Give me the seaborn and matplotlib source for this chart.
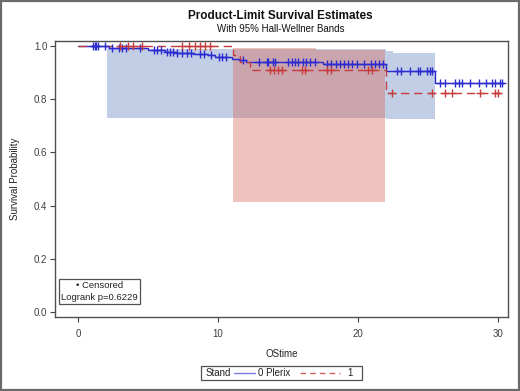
import numpy as np
import pandas as pd
import matplotlib
matplotlib.use("Agg")
import matplotlib.pyplot as plt
from matplotlib.patches import Rectangle
from matplotlib.lines import Line2D
import seaborn as sns

# ---------------- data ----------------
# Stand = 0 (Plerix) Kaplan-Meier step curve
blue_times = [0, 2.2, 5.0, 6.2, 7.0, 8.2, 9.3, 9.8, 11.0, 11.5, 12.0, 17.5, 22.0, 25.5, 30.35]
blue_surv = [1.0, 0.993, 0.986, 0.979, 0.975, 0.970, 0.965, 0.960, 0.953, 0.947, 0.941, 0.931, 0.905, 0.862, 0.862]
blue_censored = [1.1, 1.2, 1.32, 1.45, 1.95, 2.4, 2.9, 3.15, 3.4, 4.4, 5.4, 5.65, 5.9, 6.35, 6.6,
                 6.8, 7.1, 7.4, 7.75, 8.1, 8.7, 9.0, 9.5, 10.1, 10.3, 10.6, 11.8, 12.9, 13.5, 13.6,
                 13.95, 14.07, 15.0, 15.3, 15.5, 15.7, 16.1, 16.3, 16.6, 16.9, 17.8, 18.1, 18.4,
                 18.7, 19.0, 19.3, 19.6, 19.9, 20.4, 20.9, 21.2, 21.5, 21.8, 22.8, 23.1, 23.7,
                 24.3, 24.4, 24.9, 25.1, 25.3, 25.86, 26.2, 26.9, 27.2, 27.4, 28.0, 28.6, 29.1,
                 29.55, 29.8, 30.1, 30.3]

# Stand = 1 step curve
red_times = [0, 11.05, 11.6, 12.3, 22.0, 30.3]
red_surv = [1.0, 0.965, 0.94, 0.912, 0.822, 0.822]
red_censored = [3.0, 3.6, 3.95, 4.55, 7.4, 7.9, 8.36, 8.7, 9.07, 9.43, 13.7, 14.0, 14.3, 14.55,
                16.0, 16.2, 17.8, 18.1, 20.7, 21.0, 22.4, 25.3, 26.2, 26.7, 28.7, 29.8, 30.0]

# 95% Hall-Wellner bands (step edges)
blue_band_t = [2.05, 22.0, 22.5, 25.5]
blue_band_lo = [0.729, 0.725, 0.725, 0.725]
blue_band_hi = [0.991, 0.980, 0.975, 0.975]
red_band_t = [11.05, 17.0, 21.9]
red_band_lo = [0.415, 0.415, 0.415]
red_band_hi = [0.992, 0.985, 0.985]

x_ticks = [0, 10, 20, 30]
y_ticks = [0.0, 0.2, 0.4, 0.6, 0.8, 1.0]
title = "Product-Limit Survival Estimates"
subtitle = "With 95% Hall-Wellner Bands"
logrank_text = "Logrank p=0.6229"

# ---------------- style ----------------
sns.set_style("ticks")
plt.rcParams['font.family'] = ['Liberation Sans', 'DejaVu Sans']

BLUE = '#2b2bd0'
RED = '#c63c3c'
BLUE_BAND = '#c2cee6'
RED_BAND = '#d9695c'
GRAY = '#404040'

fig = plt.figure(figsize=(5.20, 3.91), dpi=100)
ax = fig.add_axes([0.1058, 0.189, 0.871, 0.706])

# bands
ax.fill_between(blue_band_t, blue_band_lo, blue_band_hi, step='post',
                color=BLUE_BAND, linewidth=0, zorder=1)
ax.fill_between(red_band_t, red_band_lo, red_band_hi, step='post',
                color=RED_BAND, alpha=0.4, linewidth=0, zorder=2)

def surv_at(times, surv, t):
    idx = np.searchsorted(np.asarray(times), np.asarray(t), side='right') - 1
    return np.asarray(surv)[idx]

df_blue = pd.DataFrame({"OStime": blue_times, "surv": blue_surv})
df_red = pd.DataFrame({"OStime": red_times, "surv": red_surv})

sns.lineplot(data=df_blue, x="OStime", y="surv", drawstyle='steps-post', color=BLUE,
             linewidth=1.0, ax=ax, zorder=3, estimator=None)
sns.lineplot(data=df_red, x="OStime", y="surv", drawstyle='steps-post', color=RED,
             linewidth=1.0, linestyle=(0, (6, 3.5)), ax=ax, zorder=4, estimator=None)

bc = pd.DataFrame({"t": blue_censored, "s": surv_at(blue_times, blue_surv, blue_censored)})
rc = pd.DataFrame({"t": red_censored, "s": surv_at(red_times, red_surv, red_censored)})
sns.scatterplot(data=bc, x="t", y="s", marker='+', s=26, color=BLUE, linewidth=1.0,
                ax=ax, zorder=5)
sns.scatterplot(data=rc, x="t", y="s", marker='+', s=26, color=RED, linewidth=1.0,
                ax=ax, zorder=6)

ax.set_xlim(-1.64, 30.7)
ax.set_ylim(-0.019, 1.019)
ax.set_xticks(x_ticks)
ax.set_yticks(y_ticks)
ax.set_xticklabels([str(v) for v in x_ticks])
ax.set_yticklabels([f"{v:.1f}" for v in y_ticks])
ax.tick_params(axis='both', labelsize=7, colors=GRAY, length=3.5, width=0.8)
ax.tick_params(axis='x', pad=5)
ax.tick_params(axis='y', pad=2)
for sp in ax.spines.values():
    sp.set_color('#505050')
    sp.set_linewidth(1.0)
ax.set_xlabel("OStime", fontsize=7, color='#222222', labelpad=7)
ax.set_ylabel("Survival Probability", fontsize=7, color='#222222', labelpad=10)

# inset box with censor note and logrank p
ax.text(0.098, 0.092, "\u2022 Censored\n" + logrank_text, transform=ax.transAxes,
        ha='center', va='center', fontsize=6.8, color='#222222', linespacing=1.35,
        bbox=dict(boxstyle='square,pad=0.25', facecolor='white', edgecolor='#505050',
                  linewidth=0.9), zorder=10)

# titles
fig.text(0.54, 0.958, title, ha='center', va='center', fontsize=8.5, fontweight='bold',
         color='#111111')
fig.text(0.54, 0.925, subtitle, ha='center', va='center', fontsize=7, color='#111111')

# bottom legend: Stand —— 0 Plerix - - - 1
ly = 1 - 373 / 391
fig.patches.append(Rectangle((201 / 520, 1 - 380 / 391), 161 / 520, 14 / 391,
                             transform=fig.transFigure, facecolor='white',
                             edgecolor='#505050', linewidth=0.9))
fig.text(206 / 520, ly, "Stand", ha='left', va='center', fontsize=7, color='#222222')
fig.lines.append(Line2D([234 / 520, 255 / 520], [ly, ly], transform=fig.transFigure,
                        color='#7a7ae0', linewidth=1.0))
fig.text(258 / 520, ly, "0 Plerix", ha='left', va='center', fontsize=7, color='#222222')
fig.lines.append(Line2D([300 / 520, 340 / 520], [ly, ly], transform=fig.transFigure,
                        color='#d06060', linewidth=1.0, linestyle=(0, (4, 3))))
fig.text(347 / 520, ly, "1", ha='left', va='center', fontsize=7, color='#222222')

# outer frame
fig.patches.append(Rectangle((0.002, 0.003), 0.996, 0.994, transform=fig.transFigure,
                             fill=False, edgecolor='#6a6a6a', linewidth=1.6))

fig.savefig("out.png", dpi=100)
